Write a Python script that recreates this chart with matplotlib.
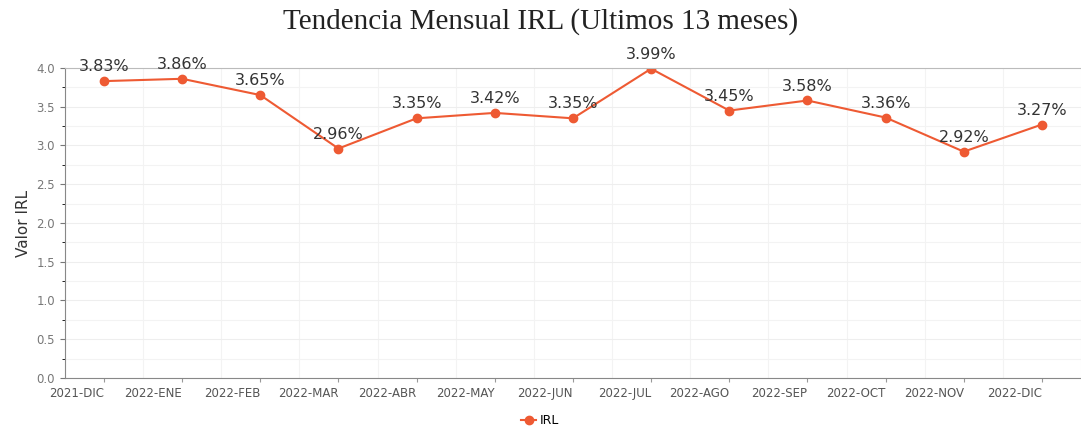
import matplotlib
matplotlib.use("Agg")
import matplotlib.pyplot as plt
from matplotlib.ticker import MultipleLocator

months = ["2021-DIC", "2022-ENE", "2022-FEB", "2022-MAR", "2022-ABR", "2022-MAY",
          "2022-JUN", "2022-JUL", "2022-AGO", "2022-SEP", "2022-OCT", "2022-NOV", "2022-DIC"]
irl = [3.83, 3.86, 3.65, 2.96, 3.35, 3.42, 3.35, 3.99, 3.45, 3.58, 3.36, 2.92, 3.27]

color = "#EE5A33"
fig = plt.figure(figsize=(10.81, 4.30), dpi=100)
ax = fig.add_axes([0.060, 0.121, 0.940, 0.721])
x = list(range(len(months)))
ax.plot(x, irl, color=color, marker="o", markersize=6, linewidth=1.5, label="IRL")
for xi, v in zip(x, irl):
    ax.annotate(f"{v:.2f}%", (xi, v), textcoords="offset points", xytext=(0, 5),
                ha="center", va="bottom", fontsize=11.5, color="#333333")

ax.set_xlim(-0.50, 12.40)
ax.set_ylim(0, 4.0)
ax.set_xticks(x)
ax.set_xticklabels(months, ha="right", fontsize=8.5, color="#555555")
ax.set_xticks([i + 0.5 for i in range(-1, 13)], minor=True)
ax.yaxis.set_major_locator(MultipleLocator(0.5))
ax.yaxis.set_minor_locator(MultipleLocator(0.25))
ax.tick_params(axis="y", labelsize=8.5, labelcolor="#777777", color="#777777")
ax.tick_params(axis="x", color="#999999", length=3)
ax.tick_params(axis="x", which="minor", length=0)
ax.set_yticklabels([f"{v:.1f}" for v in ax.get_yticks()])
ax.grid(True, which="major", axis="y", color="#eeeeee", linewidth=0.8)
ax.grid(True, which="minor", color="#f3f3f3", linewidth=0.8)
for s in ["left", "bottom"]:
    ax.spines[s].set_color("#888888")
ax.spines["top"].set_color("#bbbbbb")
ax.spines["right"].set_visible(False)
ax.set_ylabel("Valor IRL", fontsize=11, color="#333333")
fig.text(0.5, 0.95, "Tendencia Mensual IRL (Ultimos 13 meses)", ha="center", va="center",
         fontsize=21, family="Liberation Serif", color="#222222")
fig.legend(loc="center", bbox_to_anchor=(0.5, 0.022), frameon=False, fontsize=9,
           handlelength=1.2, handletextpad=0.3)
fig.savefig("out.png", dpi=100)
